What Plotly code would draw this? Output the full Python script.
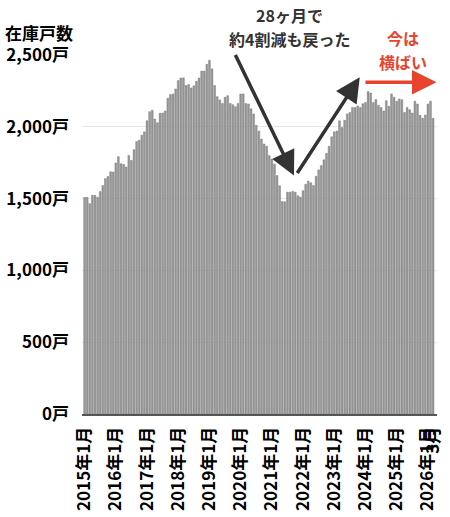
import plotly.graph_objects as go

# 首都圏 中古マンション在庫戸数（月次, 2015年1月〜2026年3月）
stock = [
    1509, 1509, 1465, 1523, 1523, 1509, 1549, 1591, 1640, 1654, 1687, 1685,  # 2015
    1748, 1792, 1743, 1738, 1720, 1801, 1766, 1841, 1897, 1907, 1942, 1965,  # 2016
    2042, 2105, 2115, 2054, 2028, 2094, 2096, 2110, 2199, 2225, 2229, 2264,  # 2017
    2322, 2339, 2341, 2287, 2294, 2271, 2285, 2318, 2339, 2388, 2388, 2435,  # 2018
    2463, 2404, 2287, 2210, 2187, 2163, 2206, 2217, 2163, 2154, 2140, 2163,  # 2019
    2229, 2229, 2163, 2159, 2125, 2090, 2010, 1970, 1915, 1880, 1865, 1800,  # 2020
    1775, 1740, 1660, 1590, 1480, 1478, 1545, 1545, 1550, 1545, 1520, 1510,  # 2021
    1555, 1600, 1622, 1610, 1592, 1655, 1700, 1730, 1770, 1815, 1865, 1930,  # 2022
    1965, 1970, 2042, 1995, 2045, 2090, 2100, 2135, 2135, 2145, 2135, 2160,  # 2023
    2170, 2245, 2235, 2170, 2190, 2150, 2135, 2110, 2182, 2143, 2229, 2206,  # 2024
    2178, 2194, 2189, 2100, 2135, 2119, 2096, 2178, 2159, 2080, 2059, 2082,  # 2025
    2159, 2178, 2059,                                                        # 2026
]

years = list(range(2015, 2027))
months = []
for y in years:
    for m in range(1, 13):
        months.append(f"{y}年{m}月")
months = months[:len(stock)]

# 目盛り: 各年1月 + 最終月
tick_idx = [i for i, lab in enumerate(months) if lab.endswith("年1月")] + [len(stock) - 1]
tick_text = [months[i] for i in tick_idx[:-1]] + ["3月"]

y_ticks = [0, 500, 1000, 1500, 2000, 2500]
y_text = [f"{v:,}戸" for v in y_ticks]

note_dark = ["28ヶ月で", "約4割減も戻った"]
note_red = ["今は", "横ばい"]

FONT = "Noto Sans CJK JP"
DARK = "#333333"
RED = "#e8432d"

# プロット領域（px）
TOP, BOTTOM = 55, 414.5
PLOT_H = BOTTOM - TOP

fig = go.Figure()

fig.add_trace(go.Bar(
    x=list(range(len(stock))),
    y=stock,
    customdata=months,
    marker=dict(color="#999999", line=dict(color="#707070", width=0.4)),
    hovertemplate="%{customdata}: %{y:,}戸<extra></extra>",
))

# 矢印（下落 → 回復 → 横ばい）
arrows = [
    dict(x=80.5, y=1660, ax=57.7, ay=2510, color=DARK),
    dict(x=105.8, y=2345, ax=81.4, ay=1668, color=DARK),
    dict(x=135.3, y=2310, ax=107.4, ay=2310, color=RED),
]
for a in arrows:
    fig.add_annotation(
        x=a["x"], y=a["y"], ax=a["ax"], ay=a["ay"],
        xref="x", yref="y", axref="x", ayref="y",
        text="", showarrow=True, arrowhead=2, arrowsize=1.4,
        arrowwidth=3.5, arrowcolor=a["color"], standoff=0, startstandoff=0,
    )

# 注記テキスト（1行ずつ置いて行間を合わせる）
for line, ypx in zip(note_dark, [15, 39]):
    fig.add_annotation(
        x=78.8, y=(BOTTOM - ypx) / PLOT_H, xref="x", yref="paper",
        text=line, showarrow=False,
        font=dict(family=FONT, size=16, color=DARK, weight="bold"),
        xanchor="center", yanchor="middle",
    )
for line, ypx in zip(note_red, [38, 62]):
    fig.add_annotation(
        x=122.3, y=(BOTTOM - ypx) / PLOT_H, xref="x", yref="paper",
        text=line, showarrow=False,
        font=dict(family=FONT, size=16, color=RED, weight="bold"),
        xanchor="center", yanchor="middle",
    )

fig.update_layout(
    width=450, height=517,
    margin=dict(l=82, r=13, t=TOP, b=517 - BOTTOM, autoexpand=False),
    paper_bgcolor="white", plot_bgcolor="white",
    showlegend=False, bargap=0.3,
    font=dict(family=FONT, size=16, color="black"),
    title=dict(
        text="在庫戸数", x=5 / 450, xanchor="left", xref="container",
        y=1 - 34 / 517, yanchor="middle", yref="container",
        font=dict(family=FONT, size=17, color="black", weight="bold"),
    ),
)

fig.update_xaxes(
    range=[-1, 135.5], automargin=False,
    tickmode="array", tickvals=tick_idx, ticktext=tick_text,
    tickangle=-90, ticks="",
    tickfont=dict(family=FONT, size=17, color="black", weight="bold"),
    ticklabelstandoff=4,
    showgrid=False, showline=True, linecolor="#555555", linewidth=2,
    zeroline=False,
)
fig.update_yaxes(
    range=[0, 2500], automargin=False,
    tickmode="array", tickvals=y_ticks, ticktext=y_text,
    tickfont=dict(family=FONT, size=17, color="black", weight="bold"),
    ticklabelstandoff=12,
    showgrid=True, gridcolor="#e8e8e8", gridwidth=1,
    zeroline=False,
)

# ページ余白をなくして図を左上に合わせる
fig.write_html(
    "out.html",
    config={"displayModeBar": False},
    post_script="document.body.style.margin='0';",
)
